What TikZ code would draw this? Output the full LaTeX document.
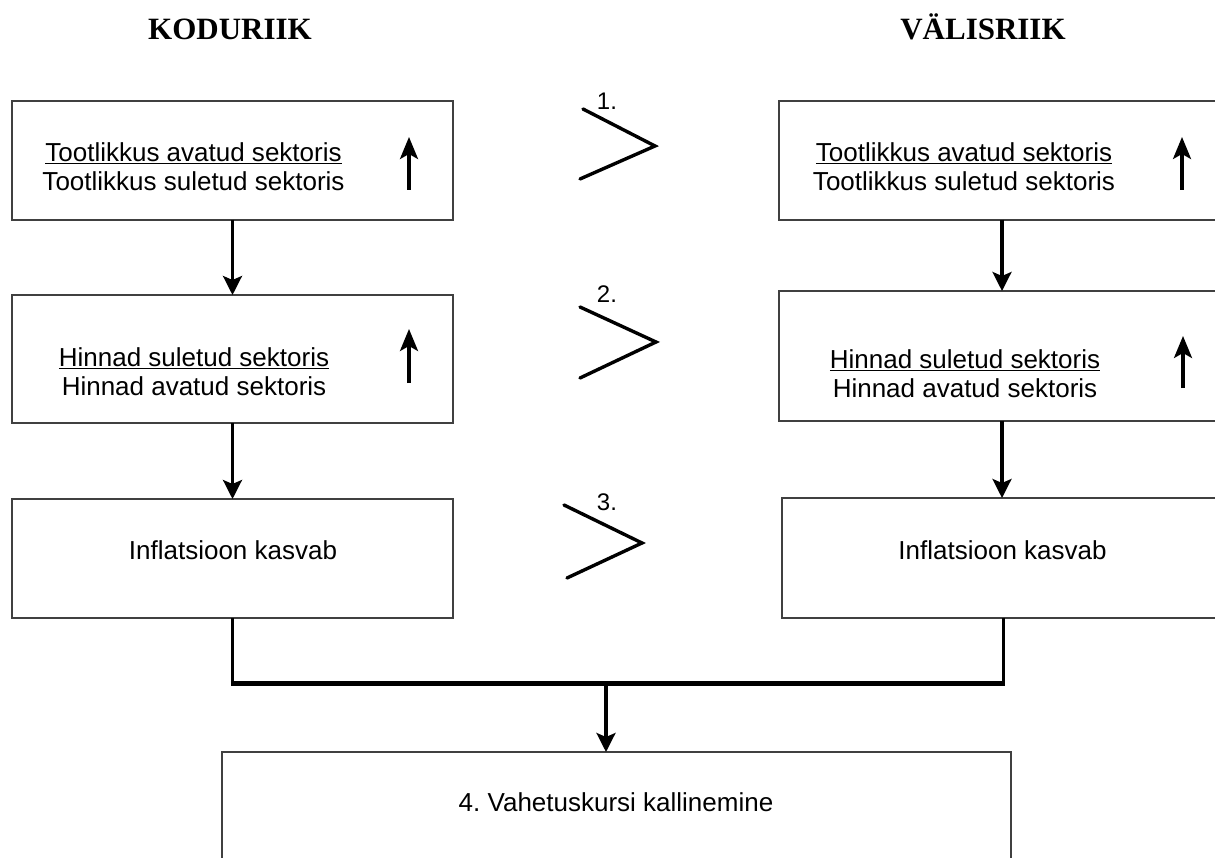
\documentclass[tikz,border=0pt]{standalone}
\usepackage{fontspec}
\setmainfont{Liberation Sans}
\newfontfamily\titlefont{Liberation Serif}
\usetikzlibrary{arrows.meta}
\tikzset{
  box/.style={draw=black!75, line width=2.4pt, fill=none, inner sep=0pt, outer sep=0pt},
  txt/.style={font=\fontsize{26}{29}\selectfont, align=center, inner sep=0pt},
  ttl/.style={font=\titlefont\bfseries\fontsize{31}{31}\selectfont, inner sep=0pt, anchor=base},
  lbl/.style={font=\fontsize{24}{24}\selectfont, inner sep=0pt},
  conn/.style={line width=3.2pt, -{Stealth[length=19pt,width=19pt,inset=4pt]}},
  uparr/.style={line width=3.2pt, -{Stealth[length=22pt,width=18pt,inset=5pt]}},
  gt/.style={line width=3.4pt, line cap=round, line join=miter},
  plain/.style={line width=3.2pt},
  thick bar/.style={line width=5pt}
}
\begin{document}
\begin{tikzpicture}[x=1pt,y=-1pt]
\frenchspacing
\useasboundingbox (0,0) rectangle (1215,858);

% titles
\node[ttl] (t1) at (230,40) {KODURIIK};
\node[ttl] (t2) at (983,40) {VÄLISRIIK};

% left boxes
\node[box, minimum width=441pt, minimum height=119pt] (lb1) at (232.5,160.5) {};
\node[box, minimum width=441pt, minimum height=128pt] (lb2) at (232.5,359) {};
\node[box, minimum width=441pt, minimum height=119pt] (lb3) at (232.5,558.5) {};
% right boxes (extend beyond right edge)
\node[box, minimum width=446pt, minimum height=119pt] (rb1) at (1002,160.5) {};
\node[box, minimum width=446pt, minimum height=130pt] (rb2) at (1002,356) {};
\node[box, minimum width=443pt, minimum height=120pt] (rb3) at (1003.5,558) {};
% bottom box
\node[box, minimum width=789pt, minimum height=130pt] (bx) at (616.5,817) {};

% texts
\node[txt] (l1t) at (193.5,167) {\underline{Tootlikkus avatud sektoris}\\Tootlikkus suletud sektoris};
\node[txt] (l2t) at (194,372) {\underline{Hinnad suletud sektoris}\\Hinnad avatud sektoris};
\node[txt] (l3t) at (233,550) {Inflatsioon kasvab};
\node[txt] (r1t) at (964,167) {\underline{Tootlikkus avatud sektoris}\\Tootlikkus suletud sektoris};
\node[txt] (r2t) at (965,374) {\underline{Hinnad suletud sektoris}\\Hinnad avatud sektoris};
\node[txt] (r3t) at (1002.5,550) {Inflatsioon kasvab};
\node[txt] (bt) at (616,802) {4. Vahetuskursi kallinemine};

% up arrows inside boxes
\coordinate (ua1s) at (409,190); \coordinate (ua1e) at (409,137);
\coordinate (ua2s) at (409,383); \coordinate (ua2e) at (409,329);
\coordinate (ua3s) at (1182,190); \coordinate (ua3e) at (1182,137);
\coordinate (ua4s) at (1183,388); \coordinate (ua4e) at (1183,336);
\draw[uparr] (ua1s) -- (ua1e);
\draw[uparr] (ua2s) -- (ua2e);
\draw[uparr] (ua3s) -- (ua3e);
\draw[uparr] (ua4s) -- (ua4e);

% vertical connectors
\draw[conn] (lb1.south) -- (lb2.north);
\draw[conn] (lb2.south) -- (lb3.north);
\draw[conn] (rb1.south) -- (rb2.north);
\draw[conn] (rb2.south) -- (rb2.south |- rb3.north);

% joining bar
\coordinate (jl) at (232.5,683);
\coordinate (jr) at (1003.5,683);
\coordinate (jm) at (606,683);
\draw[plain] (lb3.south) -- (jl);
\draw[plain] (rb3.south) -- (jr);
\draw[thick bar] ([xshift=-1.6pt]jl) -- ([xshift=1.6pt]jr);
\draw[conn] (jm) -- (jm |- bx.north);

% greater-than signs
\coordinate (g1a) at (583,109); \coordinate (g1b) at (655,146); \coordinate (g1c) at (580,179);
\coordinate (g2a) at (580,307); \coordinate (g2b) at (656,342); \coordinate (g2c) at (580,378);
\coordinate (g3a) at (564,505); \coordinate (g3b) at (642,543); \coordinate (g3c) at (567,578);
\draw[gt] (g1a) -- (g1b) -- (g1c);
\draw[gt] (g2a) -- (g2b) -- (g2c);
\draw[gt] (g3a) -- (g3b) -- (g3c);
\node[lbl] (n1) at (607,101) {1.};
\node[lbl] (n2) at (607,294) {2.};
\node[lbl] (n3) at (607,502) {3.};
\end{tikzpicture}
\end{document}
